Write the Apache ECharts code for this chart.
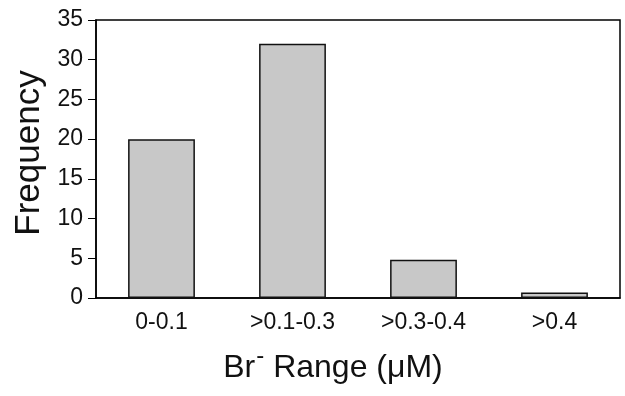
<!DOCTYPE html>
<html>
<head>
<meta charset="utf-8">
<style>
  html, body { margin: 0; padding: 0; background: #fff; }
  #main { width: 625px; height: 396px; }
</style>
<script src="https://cdn.jsdelivr.net/npm/echarts@6/dist/echarts.min.js"></script>
</head>
<body>
<div id="main"></div>
<script>
// data
var categories = ['0-0.1', '>0.1-0.3', '>0.3-0.4', '>0.4']
var frequency = [20, 32, 4.8, 0.7]
var yTicks = [0, 35, 5]

var font = 'Liberation Sans, Arial, Helvetica, sans-serif'
var myChart = echarts.init(document.getElementById('main'))

var option = {
  animation: false,
  grid: {
    left: 96, right: 5, top: 20, bottom: 98,
    outerBoundsMode: 'none',
    containLabel: false,
    show: true, borderColor: '#000', borderWidth: 1.5
  },
  xAxis: {
    type: 'category',
    data: categories,
    axisLine: { lineStyle: { color: '#000', width: 1.5 } },
    axisTick: { inside: true, length: 7, lineStyle: { color: '#000', width: 1 } },
    axisLabel: { color: '#111', fontSize: 23, fontFamily: font, margin: 13 },
    name: '{a|Br}{s|-}{a| Range (\u03bcM)}',
    nameLocation: 'middle',
    nameGap: 46,
    nameTextStyle: {
      padding: [0, 50, 0, 0],
      rich: {
        a: { fontSize: 32, fontFamily: font, color: '#111', verticalAlign: 'bottom' },
        s: { fontSize: 24, fontFamily: font, color: '#111', verticalAlign: 'top', padding: [0, 0, 16, 1] }
      }
    }
  },
  yAxis: {
    type: 'value',
    min: yTicks[0], max: yTicks[1], interval: yTicks[2],
    splitLine: { show: false },
    axisLine: { show: true, lineStyle: { color: '#000', width: 1.5 } },
    axisTick: { show: true, length: 8, lineStyle: { color: '#000', width: 1 } },
    axisLabel: { color: '#111', fontSize: 23, fontFamily: font, margin: 13 },
    name: 'Frequency',
    nameLocation: 'middle',
    nameGap: 45,
    nameTextStyle: { color: '#111', fontSize: 35, fontFamily: font, padding: [0, 0, 0, 12] }
  },
  series: [{
    type: 'bar',
    data: frequency,
    barWidth: '51%',
    itemStyle: { color: '#c8c8c8', borderColor: '#111', borderWidth: 1.5 }
  }]
}

myChart.setOption(option)
</script>
</body>
</html>
